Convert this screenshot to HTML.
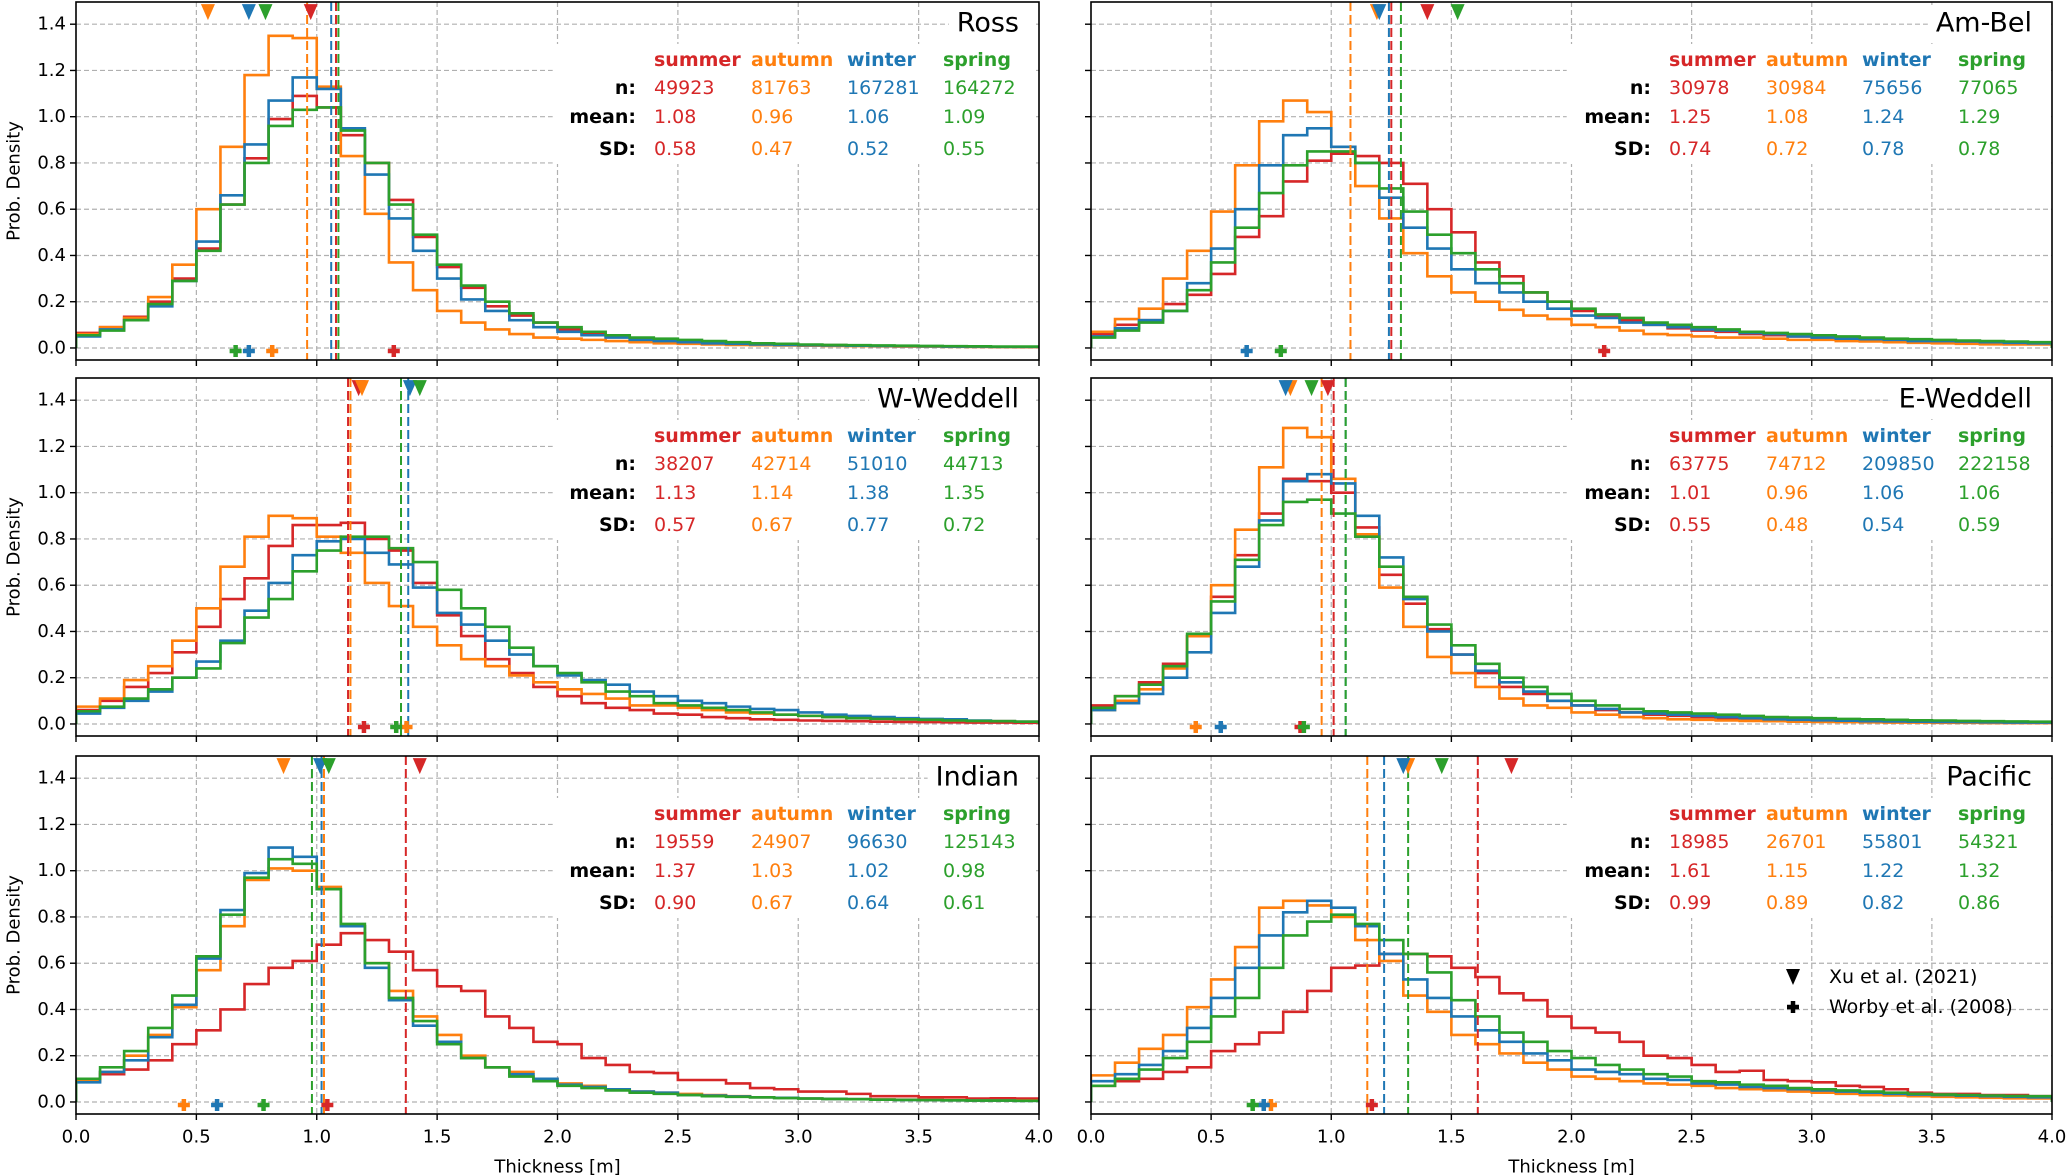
<!DOCTYPE html>
<html><head><meta charset="utf-8"><style>
html,body{margin:0;padding:0;background:#fff;}
svg{display:block;font-family:"DejaVu Sans","Liberation Sans",sans-serif;}
</style></head><body>
<svg id="fig" width="2067" height="1176" viewBox="0 0 2067 1176" xmlns="http://www.w3.org/2000/svg"></svg>
<script>
const regions = ["Ross","Am-Bel","W-Weddell","E-Weddell","Indian","Pacific"];
const seasons = ["summer","autumn","winter","spring"];
const xTicks = [0,0.5,1,1.5,2,2.5,3,3.5,4];
const xTickLabels = ["0.0","0.5","1.0","1.5","2.0","2.5","3.0","3.5","4.0"];
const yTicks = [0,0.2,0.4,0.6,0.8,1.0,1.2,1.4];
const yTickLabels = ["0.0","0.2","0.4","0.6","0.8","1.0","1.2","1.4"];

const rossSummer = [0.065,0.09,0.135,0.2,0.3,0.43,0.62,0.82,0.99,1.09,1.04,0.92,0.8,0.64,0.48,0.35,0.26,0.18,0.14,0.11,0.08,0.06,0.05,0.04,0.035,0.03,0.025,0.02,0.018,0.015,0.013,0.012,0.01,0.009,0.008,0.007,0.006,0.005,0.005,0.004];
const rossAutumn = [0.06,0.09,0.13,0.22,0.36,0.6,0.87,1.18,1.35,1.34,1.13,0.83,0.58,0.37,0.25,0.16,0.11,0.08,0.06,0.045,0.04,0.035,0.03,0.025,0.02,0.018,0.015,0.013,0.012,0.011,0.01,0.009,0.008,0.007,0.006,0.006,0.005,0.005,0.004,0.004];
const rossWinter = [0.05,0.08,0.12,0.18,0.29,0.46,0.66,0.88,1.07,1.17,1.12,0.95,0.75,0.56,0.42,0.3,0.21,0.16,0.12,0.09,0.07,0.055,0.045,0.035,0.03,0.025,0.02,0.018,0.015,0.013,0.012,0.011,0.01,0.009,0.008,0.007,0.006,0.006,0.005,0.005];
const rossSpring = [0.055,0.075,0.12,0.19,0.29,0.42,0.62,0.8,0.96,1.03,1.04,0.94,0.8,0.62,0.49,0.36,0.27,0.2,0.15,0.11,0.09,0.07,0.055,0.045,0.04,0.035,0.03,0.025,0.02,0.018,0.015,0.013,0.012,0.011,0.01,0.009,0.008,0.007,0.006,0.006];

const amSummer = [0.06,0.1,0.12,0.19,0.23,0.32,0.48,0.57,0.72,0.81,0.84,0.83,0.8,0.71,0.6,0.5,0.37,0.31,0.24,0.2,0.16,0.14,0.12,0.1,0.085,0.075,0.07,0.06,0.055,0.05,0.045,0.04,0.038,0.035,0.03,0.028,0.025,0.022,0.02,0.02];
const amAutumn = [0.07,0.125,0.17,0.3,0.42,0.59,0.79,0.98,1.07,1.02,0.87,0.7,0.56,0.41,0.31,0.24,0.2,0.165,0.14,0.125,0.1,0.09,0.075,0.06,0.056,0.05,0.045,0.045,0.04,0.035,0.035,0.03,0.028,0.025,0.022,0.02,0.018,0.016,0.015,0.015];
const amWinter = [0.05,0.085,0.12,0.16,0.28,0.43,0.6,0.79,0.92,0.95,0.87,0.8,0.65,0.52,0.43,0.34,0.28,0.24,0.2,0.17,0.14,0.13,0.11,0.1,0.09,0.08,0.075,0.065,0.06,0.05,0.045,0.04,0.038,0.035,0.03,0.03,0.028,0.025,0.022,0.02];
const amSpring = [0.045,0.075,0.11,0.16,0.25,0.37,0.52,0.67,0.79,0.85,0.85,0.8,0.69,0.59,0.49,0.41,0.34,0.28,0.24,0.2,0.17,0.145,0.13,0.11,0.1,0.09,0.08,0.07,0.065,0.06,0.055,0.05,0.045,0.04,0.038,0.035,0.032,0.03,0.028,0.025];

const wwSummer = [0.06,0.1,0.16,0.22,0.31,0.42,0.54,0.63,0.77,0.86,0.86,0.87,0.8,0.75,0.61,0.47,0.38,0.28,0.22,0.16,0.12,0.09,0.07,0.06,0.045,0.04,0.03,0.025,0.02,0.018,0.015,0.013,0.012,0.01,0.009,0.008,0.007,0.006,0.006,0.005];
const wwAutumn = [0.075,0.11,0.19,0.25,0.36,0.5,0.68,0.81,0.9,0.89,0.81,0.74,0.61,0.51,0.42,0.34,0.28,0.25,0.21,0.18,0.15,0.13,0.11,0.08,0.08,0.07,0.06,0.05,0.045,0.04,0.035,0.03,0.025,0.022,0.02,0.018,0.015,0.013,0.012,0.01];
const wwWinter = [0.045,0.07,0.1,0.14,0.2,0.27,0.36,0.49,0.61,0.73,0.79,0.8,0.74,0.69,0.59,0.48,0.43,0.36,0.3,0.25,0.21,0.19,0.17,0.14,0.12,0.1,0.09,0.075,0.065,0.06,0.05,0.04,0.035,0.03,0.025,0.022,0.02,0.015,0.012,0.01];
const wwSpring = [0.055,0.075,0.11,0.15,0.2,0.24,0.35,0.46,0.54,0.66,0.75,0.81,0.81,0.76,0.7,0.58,0.5,0.42,0.33,0.25,0.22,0.18,0.14,0.12,0.09,0.08,0.07,0.06,0.05,0.04,0.035,0.03,0.025,0.022,0.02,0.018,0.015,0.013,0.012,0.01];

const ewSummer = [0.08,0.12,0.18,0.26,0.38,0.55,0.73,0.91,1.06,1.05,1.0,0.85,0.645,0.52,0.41,0.3,0.22,0.16,0.13,0.1,0.08,0.06,0.05,0.04,0.035,0.03,0.025,0.02,0.018,0.015,0.013,0.012,0.01,0.009,0.008,0.007,0.006,0.006,0.005,0.005];
const ewAutumn = [0.06,0.1,0.15,0.24,0.38,0.6,0.84,1.11,1.28,1.24,1.06,0.82,0.59,0.42,0.29,0.22,0.16,0.11,0.08,0.07,0.05,0.04,0.03,0.025,0.02,0.018,0.015,0.013,0.012,0.01,0.009,0.008,0.007,0.006,0.006,0.005,0.005,0.004,0.004,0.004];
const ewWinter = [0.06,0.09,0.13,0.2,0.31,0.48,0.68,0.88,1.05,1.08,1.04,0.9,0.72,0.54,0.4,0.3,0.23,0.18,0.14,0.1,0.08,0.065,0.05,0.045,0.04,0.035,0.03,0.025,0.02,0.018,0.016,0.014,0.012,0.011,0.01,0.009,0.008,0.007,0.006,0.006];
const ewSpring = [0.07,0.12,0.17,0.25,0.39,0.53,0.71,0.86,0.96,0.97,0.91,0.81,0.68,0.55,0.43,0.34,0.26,0.2,0.16,0.13,0.1,0.08,0.065,0.055,0.05,0.045,0.04,0.035,0.03,0.028,0.025,0.022,0.02,0.018,0.016,0.015,0.013,0.012,0.011,0.01];

const inSummer = [0.1,0.12,0.14,0.18,0.25,0.31,0.4,0.51,0.58,0.61,0.68,0.73,0.7,0.65,0.57,0.5,0.48,0.37,0.32,0.26,0.25,0.19,0.16,0.13,0.125,0.095,0.095,0.08,0.06,0.055,0.045,0.045,0.035,0.025,0.025,0.02,0.02,0.015,0.016,0.015];
const inAutumn = [0.09,0.13,0.2,0.29,0.41,0.57,0.76,0.96,1.01,1.0,0.93,0.76,0.6,0.48,0.37,0.29,0.2,0.15,0.13,0.1,0.08,0.07,0.055,0.045,0.04,0.035,0.03,0.025,0.02,0.018,0.015,0.013,0.012,0.011,0.01,0.009,0.008,0.007,0.007,0.006];
const inWinter = [0.085,0.13,0.18,0.28,0.42,0.62,0.83,0.99,1.1,1.06,0.92,0.76,0.58,0.44,0.33,0.26,0.19,0.15,0.12,0.1,0.075,0.065,0.055,0.045,0.04,0.03,0.028,0.024,0.02,0.018,0.015,0.013,0.012,0.01,0.009,0.008,0.007,0.006,0.006,0.005];
const inSpring = [0.1,0.15,0.22,0.32,0.46,0.63,0.81,0.97,1.05,1.03,0.92,0.77,0.6,0.45,0.35,0.25,0.19,0.15,0.11,0.09,0.07,0.06,0.05,0.04,0.035,0.03,0.025,0.022,0.02,0.017,0.015,0.013,0.012,0.01,0.009,0.008,0.007,0.006,0.006,0.005];

const paSummer = [0.07,0.09,0.1,0.13,0.15,0.22,0.25,0.3,0.39,0.48,0.58,0.59,0.64,0.64,0.63,0.58,0.54,0.47,0.44,0.37,0.32,0.3,0.26,0.2,0.19,0.16,0.13,0.135,0.095,0.09,0.085,0.07,0.065,0.055,0.04,0.035,0.035,0.03,0.03,0.025];
const paAutumn = [0.115,0.17,0.23,0.29,0.41,0.53,0.67,0.84,0.87,0.85,0.8,0.7,0.61,0.46,0.39,0.29,0.25,0.21,0.17,0.14,0.11,0.1,0.09,0.08,0.075,0.07,0.06,0.055,0.05,0.045,0.04,0.035,0.03,0.028,0.025,0.022,0.02,0.018,0.016,0.015];
const paWinter = [0.09,0.12,0.16,0.22,0.32,0.45,0.58,0.72,0.82,0.87,0.84,0.76,0.64,0.53,0.45,0.37,0.31,0.26,0.21,0.18,0.14,0.13,0.12,0.1,0.095,0.08,0.075,0.065,0.06,0.055,0.05,0.045,0.04,0.035,0.032,0.03,0.027,0.025,0.022,0.02];
const paSpring = [0.07,0.1,0.14,0.19,0.26,0.37,0.45,0.58,0.72,0.78,0.81,0.77,0.7,0.64,0.56,0.44,0.37,0.3,0.26,0.22,0.19,0.16,0.14,0.12,0.11,0.09,0.085,0.075,0.07,0.06,0.055,0.05,0.045,0.04,0.035,0.032,0.03,0.028,0.026,0.025];

const nCounts = [["49923","81763","167281","164272"],["30978","30984","75656","77065"],["38207","42714","51010","44713"],["63775","74712","209850","222158"],["19559","24907","96630","125143"],["18985","26701","55801","54321"]];
const means = [[1.08,0.96,1.06,1.09],[1.25,1.08,1.24,1.29],[1.13,1.14,1.38,1.35],[1.01,0.96,1.06,1.06],[1.37,1.03,1.02,0.98],[1.61,1.15,1.22,1.32]];
const sds = [[0.58,0.47,0.52,0.55],[0.74,0.72,0.78,0.78],[0.57,0.67,0.77,0.72],[0.55,0.48,0.54,0.59],[0.90,0.67,0.64,0.61],[0.99,0.89,0.82,0.86]];
const xuMeans = [[0.975,0.548,0.718,0.787],[1.40,1.19,1.20,1.526],[1.174,1.188,1.387,1.428],[0.986,0.83,0.81,0.918],[1.428,0.862,1.014,1.05],[1.75,1.32,1.30,1.46]];
const worbyMeans = [[1.32,0.815,0.718,0.663],[2.136,null,0.648,0.79],[1.196,1.373,null,1.33],[0.872,0.436,0.54,0.886],[1.044,0.448,0.586,0.779],[1.169,0.749,0.719,0.673]];

const hists = [[rossSummer,rossAutumn,rossWinter,rossSpring],[amSummer,amAutumn,amWinter,amSpring],[wwSummer,wwAutumn,wwWinter,wwSpring],[ewSummer,ewAutumn,ewWinter,ewSpring],[inSummer,inAutumn,inWinter,inSpring],[paSummer,paAutumn,paWinter,paSpring]];
const colors = ["#d62728","#ff7f0e","#1f77b4","#2ca02c"];

const NS = "http://www.w3.org/2000/svg";
const svg = document.getElementById("fig");
function mk(parent, tag, attrs, txt){
  const e = document.createElementNS(NS, tag);
  for (const k in attrs) e.setAttribute(k, attrs[k]);
  if (txt !== undefined) e.textContent = txt;
  parent.appendChild(e);
  return e;
}
const cols = [{L:76,W:963},{L:1091,W:961}];
const tops = [2,378,756];
const H = 358, YMAX = 1.496, YMIN = -0.052;

regions.forEach((reg, p) => {
  const row = Math.floor(p/2), col = p % 2;
  const L = cols[col].L, W = cols[col].W, T = tops[row];
  const X = v => L + v/4*W;
  const Y = v => T + (YMAX - v)/(YMAX - YMIN)*H;
  const g = mk(svg, "g", {});
  
  
  const cid = "clip" + p;
  const cp = mk(g, "clipPath", {id: cid});
  mk(cp, "rect", {x: L, y: T, width: W, height: H});
  // grid
  const grid = mk(g, "g", {stroke: "#b0b0b0", "stroke-width": 1.2, "stroke-dasharray": "5,3", fill: "none"});
  
  
  xTicks.forEach(t => { if (t > 0 && t < 4) mk(grid, "line", {x1: X(t), x2: X(t), y1: T, y2: T + H}); });
  yTicks.forEach(t => mk(grid, "line", {x1: L, x2: L + W, y1: Y(t), y2: Y(t)}));
  // stats box and title
  const sb = mk(g, "rect", {x: X(1.98), y: T + 42, width: L + W - 3 - X(1.98), height: 120, fill: "#fff"});
  
  
  const tb = mk(g, "rect", {x: L + W - 100, y: T + 3, width: 97, height: 38, fill: "#fff"});
  
  
  // histograms
  hists[p].forEach((arr, s) => {
    let d = "M" + X(0) + "," + Y(0);
    arr.forEach((v, i) => { d += " L" + X(i*0.1) + "," + Y(v) + " L" + X((i+1)*0.1) + "," + Y(v); });
    d += " L" + X(arr.length*0.1) + "," + Y(0);
    const path = mk(g, "path", {d: d, fill: "none", stroke: colors[s], "stroke-width": 2.6, "clip-path": "url(#" + cid + ")", "stroke-linejoin": "miter"});
    
    
  });
  // mean lines
  means[p].forEach((m, s) => {
    const ln = mk(g, "line", {x1: X(m), x2: X(m), y1: T, y2: T + H, stroke: colors[s], "stroke-width": 2, "stroke-dasharray": "9,4"});
    
    
  });
  // Xu triangles
  xuMeans[p].forEach((m, s) => {
    const cx = X(m), cy = Y(1.452);
    const tri = mk(g, "polygon", {points: (cx-7)+","+(cy-8)+" "+(cx+7)+","+(cy-8)+" "+cx+","+(cy+8), fill: colors[s]});
    
    
  });
  // Worby plus
  worbyMeans[p].forEach((m, s) => {
    if (m === null) return;
    const cx = X(m), cy = Y(-0.013);
    const pl = mk(g, "path", {d: "M"+(cx-6)+","+cy+" H"+(cx+6)+" M"+cx+","+(cy-6)+" V"+(cy+6), stroke: colors[s], "stroke-width": 4.5});
    
    
  });
  // title
  const title = mk(g, "text", {x: L + W - 20, y: T + 21, "text-anchor": "end", "dominant-baseline": "central", "font-size": 27, fill: "#000"}, reg);
  
  
  const tw = title.getComputedTextLength();
  tb.setAttribute("x", L + W - 20 - tw - 8);
  tb.setAttribute("width", tw + 25);
  // stats
  const colX = [578, 675, 771, 867];
  const rowY = [58, 86, 115, 147];
  seasons.forEach((sn, s) => {
    const h = mk(g, "text", {x: L + colX[s], y: T + rowY[0], "dominant-baseline": "central", "font-size": 19, "font-weight": "bold", fill: colors[s]}, sn);
    
    
    const vals = [nCounts[p][s], means[p][s].toFixed(2), sds[p][s].toFixed(2)];
    vals.forEach((v, r) => {
      const t = mk(g, "text", {x: L + colX[s], y: T + rowY[r+1], "dominant-baseline": "central", "font-size": 19, fill: colors[s]}, v);
      
      
    });
  });
  ["n:", "mean:", "SD:"].forEach((lb, r) => {
    const t = mk(g, "text", {x: L + 560, y: T + rowY[r+1], "text-anchor": "end", "dominant-baseline": "central", "font-size": 19, "font-weight": "bold", fill: "#000"}, lb);
    
    
  });
  // ticks
  yTicks.forEach((t, i) => {
    mk(g, "line", {x1: L - 6, x2: L, y1: Y(t), y2: Y(t), stroke: "#000", "stroke-width": 1.4});
    if (col === 0) {
      const tl = mk(g, "text", {x: L - 10, y: Y(t), "text-anchor": "end", "dominant-baseline": "central", "font-size": 18, fill: "#000"}, yTickLabels[i]);
      
      
    }
  });
  xTicks.forEach((t, i) => {
    mk(g, "line", {x1: X(t), x2: X(t), y1: T + H, y2: T + H + 6, stroke: "#000", "stroke-width": 1.4});
    if (row === 2) {
      const tl = mk(g, "text", {x: X(t), y: T + H + 23, "text-anchor": "middle", "dominant-baseline": "central", "font-size": 18, fill: "#000"}, xTickLabels[i]);
      
      
    }
  });
  if (col === 0) {
    const yl = mk(g, "text", {x: 14, y: T + H/2, transform: "rotate(-90 14 " + (T + H/2) + ")", "text-anchor": "middle", "dominant-baseline": "central", "font-size": 18, fill: "#000"}, "Prob. Density");
    
    
  }
  if (row === 2) {
    const xl = mk(g, "text", {x: L + W/2, y: T + H + 53, "text-anchor": "middle", "dominant-baseline": "central", "font-size": 18, fill: "#000"}, "Thickness [m]");
    
    
  }
  const fr = mk(g, "rect", {x: L, y: T, width: W, height: H, fill: "none", stroke: "#000", "stroke-width": 1.6});
  
  
  // legend in Pacific
  if (reg === "Pacific") {
    const lg = mk(g, "g", {});
    
    
    const lx = 1793, ly1 = 977, ly2 = 1007;
    const e1 = mk(lg, "polygon", {points: (lx-7)+","+(ly1-8)+" "+(lx+7)+","+(ly1-8)+" "+lx+","+(ly1+8), fill: "#000"});
    
    
    const t1 = mk(lg, "text", {x: 1829, y: ly1, "dominant-baseline": "central", "font-size": 19, fill: "#000"}, "Xu et al. (2021)");
    
    
    const e2 = mk(lg, "path", {d: "M"+(lx-6)+","+ly2+" H"+(lx+6)+" M"+lx+","+(ly2-6)+" V"+(ly2+6), stroke: "#000", "stroke-width": 4.5});
    
    
    const t2 = mk(lg, "text", {x: 1829, y: ly2, "dominant-baseline": "central", "font-size": 19, fill: "#000"}, "Worby et al. (2008)");
    
    
  }
});
</script>
</body></html>
